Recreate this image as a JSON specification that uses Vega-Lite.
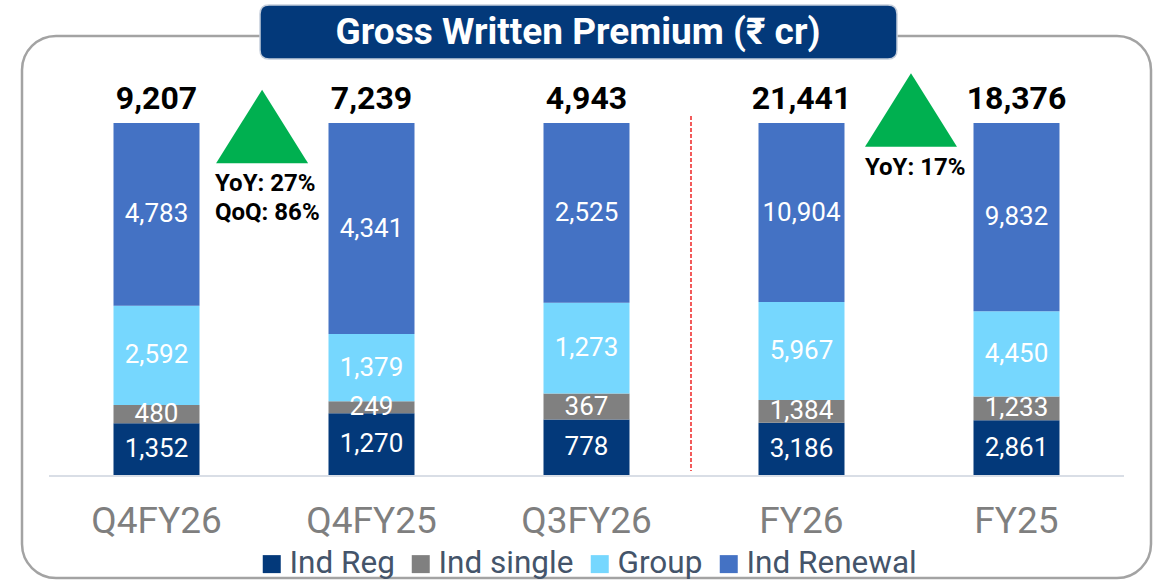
{
  "$schema": "https://vega.github.io/schema/vega-lite/v6.json",
  "width": 1129,
  "height": 542,
  "autosize": {"type": "none"},
  "padding": {"left": 22, "top": 36, "right": 2, "bottom": 3},
  "background": "white",
  "config": {
    "font": "Roboto",
    "view": {"stroke": "#a3a3a3", "strokeWidth": 2.5, "cornerRadius": 34}
  },
  "data": {
    "values": [
      {"period": "Q4FY26", "segment": "Ind Reg", "k": 1, "value": 1352},
      {"period": "Q4FY26", "segment": "Ind single", "k": 2, "value": 480},
      {"period": "Q4FY26", "segment": "Group", "k": 3, "value": 2592},
      {"period": "Q4FY26", "segment": "Ind Renewal", "k": 4, "value": 4783},
      {"period": "Q4FY25", "segment": "Ind Reg", "k": 1, "value": 1270},
      {"period": "Q4FY25", "segment": "Ind single", "k": 2, "value": 249},
      {"period": "Q4FY25", "segment": "Group", "k": 3, "value": 1379},
      {"period": "Q4FY25", "segment": "Ind Renewal", "k": 4, "value": 4341},
      {"period": "Q3FY26", "segment": "Ind Reg", "k": 1, "value": 778},
      {"period": "Q3FY26", "segment": "Ind single", "k": 2, "value": 367},
      {"period": "Q3FY26", "segment": "Group", "k": 3, "value": 1273},
      {"period": "Q3FY26", "segment": "Ind Renewal", "k": 4, "value": 2525},
      {"period": "FY26", "segment": "Ind Reg", "k": 1, "value": 3186},
      {"period": "FY26", "segment": "Ind single", "k": 2, "value": 1384},
      {"period": "FY26", "segment": "Group", "k": 3, "value": 5967},
      {"period": "FY26", "segment": "Ind Renewal", "k": 4, "value": 10904},
      {"period": "FY25", "segment": "Ind Reg", "k": 1, "value": 2861},
      {"period": "FY25", "segment": "Ind single", "k": 2, "value": 1233},
      {"period": "FY25", "segment": "Group", "k": 3, "value": 4450},
      {"period": "FY25", "segment": "Ind Renewal", "k": 4, "value": 9832}
    ]
  },
  "layer": [
    {
      "mark": {"type": "bar", "width": {"band": 0.4}},
      "encoding": {
        "x": {
          "field": "period",
          "type": "nominal",
          "scale": {"domain": ["Q4FY26", "Q4FY25", "Q3FY26", "FY26", "FY25"], "paddingInner": 0, "paddingOuter": 0.1256},
          "axis": null
        },
        "y": {
          "field": "value",
          "type": "quantitative",
          "stack": "normalize",
          "scale": {"domain": [-0.29261, 1.24716], "nice": false, "zero": false},
          "axis": null
        },
        "color": {
          "field": "segment",
          "type": "nominal",
          "scale": {
            "domain": ["Ind Reg", "Ind single", "Group", "Ind Renewal"],
            "range": ["#03397a", "#808080", "#76d7fe", "#4472c4"]
          },
          "legend": {
            "title": null, "orient": "none", "direction": "horizontal",
            "legendX": 234, "legendY": 512, "padding": 0,
            "symbolType": "square", "symbolSize": 324, "symbolStrokeWidth": 0,
            "labelFontSize": 31.5, "labelColor": "#44546a", "labelOffset": 2,
            "labelLimit": 400, "columnPadding": 10
          }
        },
        "order": {"field": "k", "type": "quantitative"}
      }
    },
    {
      "transform": [{"aggregate": [{"op": "sum", "field": "value", "as": "total"}], "groupby": ["period"]}],
      "mark": {"type": "rect", "color": "#d9dee6"},
      "encoding": {
        "x": {"field": "period", "type": "nominal", "axis": null},
        "y": {"datum": 0, "type": "quantitative", "axis": null},
        "y2": {"datum": -0.0057}
      }
    },
    {
      "transform": [{"aggregate": [{"op": "sum", "field": "value", "as": "total"}], "groupby": ["period"]}],
      "mark": {"type": "text", "color": "#7f7f7f", "fontSize": 37, "baseline": "alphabetic"},
      "encoding": {
        "x": {"field": "period", "type": "nominal", "axis": null},
        "y": {"datum": -0.1648, "type": "quantitative", "axis": null},
        "text": {"field": "period", "type": "nominal"}
      }
    },
    {
      "mark": {"type": "text", "color": "white", "fontSize": 26, "baseline": "middle"},
      "encoding": {
        "x": {"field": "period", "type": "nominal", "axis": null},
        "y": {"field": "value", "type": "quantitative", "stack": "normalize", "bandPosition": 0.5, "axis": null},
        "detail": {"field": "segment", "type": "nominal"},
        "order": {"field": "k", "type": "quantitative"},
        "text": {"field": "value", "type": "quantitative", "format": ","}
      }
    },
    {
      "transform": [{"aggregate": [{"op": "sum", "field": "value", "as": "total"}], "groupby": ["period"]}],
      "mark": {"type": "text", "color": "black", "fontSize": 32, "fontWeight": "bold", "baseline": "alphabetic", "dy": -14},
      "encoding": {
        "x": {"field": "period", "type": "nominal", "axis": null},
        "y": {"datum": 1, "type": "quantitative", "axis": null},
        "text": {"field": "total", "type": "quantitative", "format": ","}
      }
    },
    {
      "data": {"values": [{}]},
      "mark": {"type": "rule", "color": "#f25a5a", "strokeWidth": 2, "strokeDash": [4, 2]},
      "encoding": {
        "x": {"datum": "Q3FY26", "type": "nominal", "bandPosition": 0.986, "axis": null},
        "y": {"datum": 1.0199, "type": "quantitative", "axis": null},
        "y2": {"datum": 0.0114}
      }
    },
    {
      "data": {"values": [{}]},
      "mark": {"type": "point", "shape": "M0,-0.8L1,0.8L-1,0.8Z", "filled": true, "color": "#00b050", "opacity": 1, "size": 8464, "strokeWidth": 0},
      "encoding": {
        "x": {"datum": "Q4FY26", "type": "nominal", "bandPosition": 0.991, "axis": null},
        "y": {"datum": 0.99, "type": "quantitative", "axis": null}
      }
    },
    {
      "data": {"values": [{}]},
      "mark": {"type": "point", "shape": "M0,-0.8L1,0.8L-1,0.8Z", "filled": true, "color": "#00b050", "opacity": 1, "size": 8464, "strokeWidth": 0},
      "encoding": {
        "x": {"datum": "FY25", "type": "nominal", "bandPosition": 0.0093, "axis": null},
        "y": {"datum": 1.0369, "type": "quantitative", "axis": null}
      }
    },
    {
      "data": {"values": [{"note": "YoY: 27%\nQoQ: 86%"}]},
      "mark": {"type": "text", "align": "left", "baseline": "middle", "fontSize": 24, "fontWeight": "bold", "color": "black", "lineBreak": "\n", "lineHeight": 29},
      "encoding": {
        "x": {"datum": "Q4FY26", "type": "nominal", "bandPosition": 0.772, "axis": null},
        "y": {"datum": 0.8267, "type": "quantitative", "axis": null},
        "text": {"field": "note", "type": "nominal"}
      }
    },
    {
      "data": {"values": [{"note": "YoY: 17%"}]},
      "mark": {"type": "text", "align": "left", "baseline": "middle", "fontSize": 24, "fontWeight": "bold", "color": "black"},
      "encoding": {
        "x": {"datum": "FY26", "type": "nominal", "bandPosition": 0.795, "axis": null},
        "y": {"datum": 0.8722, "type": "quantitative", "axis": null},
        "text": {"field": "note", "type": "nominal"}
      }
    },
    {
      "data": {"values": [{}]},
      "mark": {
        "type": "point",
        "shape": "M-0.97174,-0.08477L0.97174,-0.08477Q1,-0.08477 1,-0.05651L1,0.05651Q1,0.08477 0.97174,0.08477L-0.97174,0.08477Q-1,0.08477 -1,0.05651L-1,-0.05651Q-1,-0.08477 -0.97174,-0.08477Z",
        "filled": true, "fill": "#03397a", "fillOpacity": 1, "opacity": 1,
        "stroke": "#c5cedb", "strokeWidth": 1.5, "size": 405769
      },
      "encoding": {
        "x": {"datum": "Q3FY26", "type": "nominal", "bandPosition": 0.4628, "axis": null},
        "y": {"datum": 1.2585, "type": "quantitative", "axis": null}
      }
    },
    {
      "data": {"values": [{"title": "Gross Written Premium (₹ cr)"}]},
      "mark": {"type": "text", "color": "white", "fontSize": 37, "fontWeight": "bold", "baseline": "middle", "align": "center"},
      "encoding": {
        "x": {"datum": "Q3FY26", "type": "nominal", "bandPosition": 0.4605, "axis": null},
        "y": {"datum": 1.25568, "type": "quantitative", "axis": null},
        "text": {"field": "title", "type": "nominal"}
      }
    }
  ]
}
